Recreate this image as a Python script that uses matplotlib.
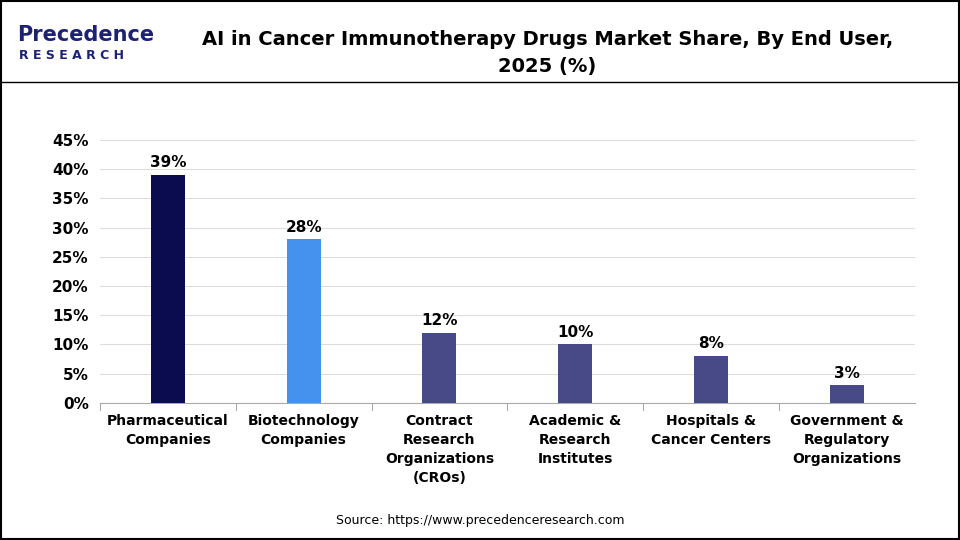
import matplotlib
matplotlib.use("Agg")
import matplotlib.pyplot as plt
from matplotlib.patches import Rectangle
from matplotlib.lines import Line2D

categories = ["Pharmaceutical\nCompanies", "Biotechnology\nCompanies", "Contract\nResearch\nOrganizations\n(CROs)",
              "Academic &\nResearch\nInstitutes", "Hospitals &\nCancer Centers", "Government &\nRegulatory\nOrganizations"]
values = [39, 28, 12, 10, 8, 3]
colors = ["#0b0c4f", "#4592ee", "#474a86", "#474a86", "#474a86", "#474a86"]
yticks = [0, 5, 10, 15, 20, 25, 30, 35, 40, 45]

plt.rcParams['font.family'] = ['DejaVu Sans']
fig = plt.figure(figsize=(9.6, 5.4), dpi=100)
ax = fig.add_axes([0.104, 0.254, 0.849, 0.487])
x = range(len(values))
ax.bar(x, values, width=0.25, color=colors, zorder=3)
for i, v in zip(x, values):
    ax.text(i, v + 0.8, f"{v}%", ha="center", va="bottom", fontsize=11, fontweight="bold")
ax.set_xlim(-0.5, len(values) - 0.5)
ax.set_ylim(0, 45)
ax.set_yticks(yticks)
ax.set_yticklabels([f"{t}%" for t in yticks], fontsize=11, fontweight="bold")
ax.set_xticks(list(x))
ax.set_xticklabels(categories, fontsize=10, fontweight="bold", va="top", linespacing=1.45)
ax.grid(axis="y", color="#dddddd", linewidth=0.8, zorder=0)
for s in ["top", "right", "left"]:
    ax.spines[s].set_visible(False)
ax.spines["bottom"].set_color("#aaaaaa")
ax.tick_params(axis="y", length=0, pad=8)
ax.tick_params(axis="x", length=0, pad=8)
for b in [-0.5 + k for k in range(len(values))]:
    ax.plot([b, b], [0, -1.2], color="#aaaaaa", lw=0.8, clip_on=False)

fig.text(0.57, 0.945, "AI in Cancer Immunotherapy Drugs Market Share, By End User,\n2025 (%)",
         ha="center", va="top", fontsize=14, fontweight="bold", linespacing=1.55)
fig.text(0.018, 0.935, "Precedence", ha="left", va="center", fontsize=15, color="#1c2170", fontweight="bold")
fig.text(0.02, 0.898, "R E S E A R C H", ha="left", va="center", fontsize=9, color="#1c2170", fontweight="bold")
fig.text(0.5, 0.037, "Source: https://www.precedenceresearch.com", ha="center", va="center", fontsize=9)
fig.add_artist(Line2D([0, 1], [0.848, 0.848], color="black", lw=1, transform=fig.transFigure))
fig.add_artist(Rectangle((0.001, 0.001), 0.998, 0.997, fill=False, edgecolor="black", lw=1.5, transform=fig.transFigure))
fig.savefig("out.png", dpi=100)
